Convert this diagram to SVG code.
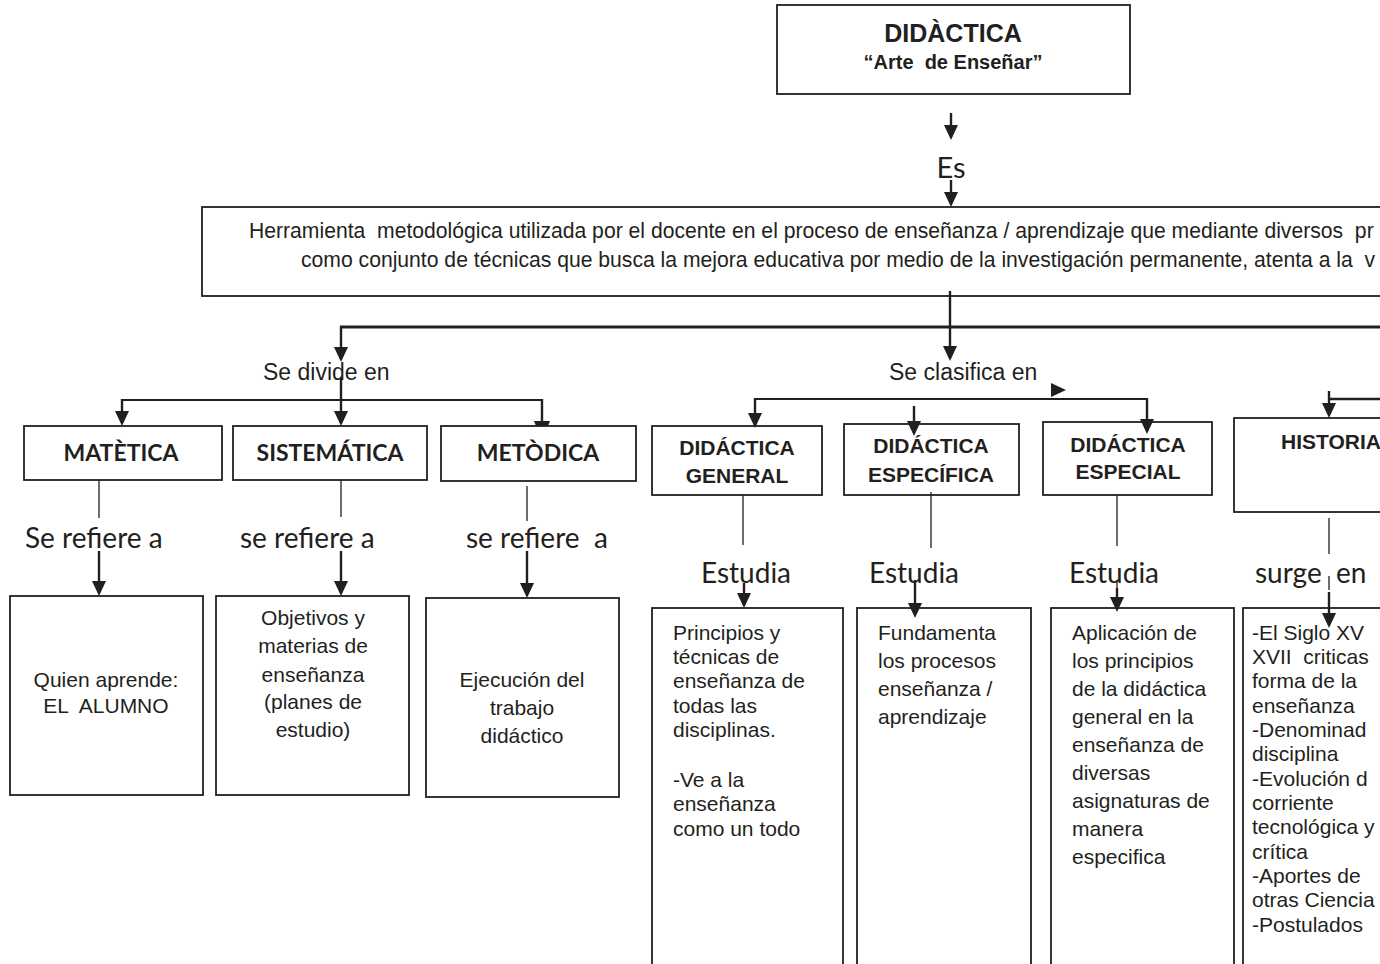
<svg xmlns="http://www.w3.org/2000/svg" width="1380" height="964" viewBox="0 0 1380 964">
<defs>
<marker id="ah" viewBox="0 0 10 10" refX="8" refY="5" markerUnits="userSpaceOnUse" markerWidth="15" markerHeight="14" orient="auto" preserveAspectRatio="none"><path d="M0,0 L10,5 L0,10 z" fill="#231f20"/></marker>
<style>
.box{fill:#fff;stroke:#231f20;stroke-width:1.8}
.t{font-family:"Liberation Sans",Arial,sans-serif;fill:#231f20}
.c{font-family:Lato,"Open Sans",sans-serif;fill:#231f20}
.b{font-weight:bold}
.mid{text-anchor:middle}
.ln{stroke:#231f20;fill:none}
.thin{stroke-width:1.3}
.arr{stroke-width:2.4;marker-end:url(#ah)}
</style>
</defs>
<rect x="0" y="0" width="1380" height="964" fill="#fff"/>

<g id="didactica">
<rect class="box" x="777" y="5" width="353" height="89"/>
<text class="t b mid" x="953" y="42" font-size="25">DIDÀCTICA</text>
<text class="t b mid" x="953" y="69" font-size="20" xml:space="preserve">“Arte  de Enseñar”</text>
</g>
<g id="lbl-es"><text class="c mid" x="951" y="178" font-size="29">Es</text></g>

<g id="definicion">
<rect class="box" x="202" y="207" width="1200" height="89"/>
<text class="t" x="249" y="238" font-size="21.15" xml:space="preserve">Herramienta  metodológica utilizada por el docente en el proceso de enseñanza / aprendizaje que mediante diversos  pr</text>
<text class="t" x="301" y="267" font-size="21.15" xml:space="preserve">como conjunto de técnicas que busca la mejora educativa por medio de la investigación permanente, atenta a la  v</text>
</g>

<g id="lbl-divide"><text class="t" x="263" y="380" font-size="23">Se divide en</text></g>
<g id="lbl-clasifica"><text class="t" x="889" y="380" font-size="23">Se clasifica en</text></g>

<g id="matetica">
<rect class="box" x="24" y="426" width="198" height="54"/>
<text class="c b mid" x="121" y="461" font-size="23">MATÈTICA</text>
</g>
<g id="sistematica">
<rect class="box" x="233" y="426" width="194" height="54"/>
<text class="c b mid" x="330" y="461" font-size="23">SISTEMÁTICA</text>
</g>
<g id="metodica">
<rect class="box" x="441" y="426" width="195" height="55"/>
<text class="c b mid" x="538" y="461" font-size="23">METÒDICA</text>
</g>

<g id="lbl-refiere1"><text class="c" x="25" y="548" font-size="28">Se refiere a</text></g>
<g id="lbl-refiere2"><text class="c" x="240" y="548" font-size="28">se refiere a</text></g>
<g id="lbl-refiere3"><text class="c" x="466" y="548" font-size="28" xml:space="preserve">se refiere  a</text></g>

<g id="alumno">
<rect class="box" x="10" y="596" width="193" height="199"/>
<text class="t mid" x="106" y="687" font-size="21">Quien aprende:</text>
<text class="t mid" x="106" y="713" font-size="21" xml:space="preserve">EL  ALUMNO</text>
</g>
<g id="objetivos">
<rect class="box" x="216" y="596" width="193" height="199"/>
<text class="t mid" x="313" y="625" font-size="21">Objetivos y</text>
<text class="t mid" x="313" y="653" font-size="21">materias de</text>
<text class="t mid" x="313" y="682" font-size="21">enseñanza</text>
<text class="t mid" x="313" y="709" font-size="21">(planes de</text>
<text class="t mid" x="313" y="737" font-size="21">estudio)</text>
</g>
<g id="ejecucion">
<rect class="box" x="426" y="598" width="193" height="199"/>
<text class="t mid" x="522" y="687" font-size="21">Ejecución del</text>
<text class="t mid" x="522" y="715" font-size="21">trabajo</text>
<text class="t mid" x="522" y="743" font-size="21">didáctico</text>
</g>

<g id="general">
<rect class="box" x="652" y="426" width="170" height="69"/>
<text class="t b mid" x="737" y="455" font-size="21">DIDÁCTICA</text>
<text class="t b mid" x="737" y="483" font-size="21">GENERAL</text>
</g>
<g id="especifica">
<rect class="box" x="844" y="424" width="175" height="71"/>
<text class="t b mid" x="931" y="453" font-size="21">DIDÁCTICA</text>
<text class="t b mid" x="931" y="482" font-size="21">ESPECÍFICA</text>
</g>
<g id="especial">
<rect class="box" x="1043" y="422" width="169" height="73"/>
<text class="t b mid" x="1128" y="452" font-size="21">DIDÁCTICA</text>
<text class="t b mid" x="1128" y="479" font-size="21">ESPECIAL</text>
</g>
<g id="historia">
<rect class="box" x="1234" y="418" width="170" height="94"/>
<text class="t b" x="1281" y="449" font-size="21">HISTORIA</text>
</g>

<g id="lbl-estudia1"><text class="c" x="701" y="583" font-size="28">Estudia</text></g>
<g id="lbl-estudia2"><text class="c" x="869" y="583" font-size="28">Estudia</text></g>
<g id="lbl-estudia3"><text class="c" x="1069" y="583" font-size="28">Estudia</text></g>
<g id="lbl-surge"><text class="c" x="1255" y="583" font-size="28" xml:space="preserve">surge  en</text></g>

<g id="principios">
<rect class="box" x="652" y="608" width="191" height="380"/>
<text class="t" x="673" y="640" font-size="21">Principios y</text>
<text class="t" x="673" y="664" font-size="21">técnicas de</text>
<text class="t" x="673" y="688" font-size="21">enseñanza de</text>
<text class="t" x="673" y="713" font-size="21">todas las</text>
<text class="t" x="673" y="737" font-size="21">disciplinas.</text>
<text class="t" x="673" y="787" font-size="21">-Ve a la</text>
<text class="t" x="673" y="811" font-size="21">enseñanza</text>
<text class="t" x="673" y="836" font-size="21">como un todo</text>
</g>
<g id="fundamenta">
<rect class="box" x="857" y="608" width="174" height="380"/>
<text class="t" x="878" y="640" font-size="21">Fundamenta</text>
<text class="t" x="878" y="668" font-size="21">los procesos</text>
<text class="t" x="878" y="696" font-size="21">enseñanza /</text>
<text class="t" x="878" y="724" font-size="21">aprendizaje</text>
</g>
<g id="aplicacion">
<rect class="box" x="1051" y="608" width="183" height="380"/>
<text class="t" x="1072" y="640" font-size="21">Aplicación de</text>
<text class="t" x="1072" y="668" font-size="21">los principios</text>
<text class="t" x="1072" y="696" font-size="21">de la didáctica</text>
<text class="t" x="1072" y="724" font-size="21">general en la</text>
<text class="t" x="1072" y="752" font-size="21">enseñanza de</text>
<text class="t" x="1072" y="780" font-size="21">diversas</text>
<text class="t" x="1072" y="808" font-size="21">asignaturas de</text>
<text class="t" x="1072" y="836" font-size="21">manera</text>
<text class="t" x="1072" y="864" font-size="21">especifica</text>
</g>
<g id="siglo">
<rect class="box" x="1243" y="608" width="170" height="380"/>
<text class="t" x="1252" y="640" font-size="21">-El Siglo XV</text>
<text class="t" x="1252" y="664" font-size="21" xml:space="preserve">XVII  criticas</text>
<text class="t" x="1252" y="688" font-size="21">forma de la</text>
<text class="t" x="1252" y="713" font-size="21">enseñanza</text>
<text class="t" x="1252" y="737" font-size="21">-Denominad</text>
<text class="t" x="1252" y="761" font-size="21">disciplina</text>
<text class="t" x="1252" y="786" font-size="21">-Evolución d</text>
<text class="t" x="1252" y="810" font-size="21">corriente</text>
<text class="t" x="1252" y="834" font-size="21">tecnológica y</text>
<text class="t" x="1252" y="859" font-size="21">crítica</text>
<text class="t" x="1252" y="883" font-size="21">-Aportes de</text>
<text class="t" x="1252" y="907" font-size="21">otras Ciencia</text>
<text class="t" x="1252" y="932" font-size="21">-Postulados</text>
</g>

<g id="connectors">
<line class="ln arr" x1="951" y1="113" x2="951" y2="137"/>
<line class="ln arr" x1="951" y1="180" x2="951" y2="204"/>
<line class="ln arr" x1="950" y1="291" x2="950" y2="358"/>
<line class="ln" stroke-width="3" x1="340" y1="327" x2="1380" y2="327"/>
<line class="ln arr" x1="341" y1="326" x2="341" y2="359"/>
<line class="ln arr" x1="341" y1="377" x2="341" y2="423"/>
<line class="ln" stroke-width="2" x1="121" y1="400" x2="543" y2="400"/>
<line class="ln arr" x1="122" y1="399" x2="122" y2="423"/>
<line class="ln" stroke-width="2.4" x1="542" y1="399" x2="542" y2="423"/>
<polygon points="534,421 550,421 548,426 536,426" fill="#231f20"/>
<line class="ln thin" x1="99" y1="480" x2="99" y2="518"/>
<line class="ln thin" x1="341" y1="480" x2="341" y2="517"/>
<line class="ln thin" x1="527" y1="486" x2="527" y2="521"/>
<line class="ln arr" x1="99" y1="551" x2="99" y2="593"/>
<line class="ln arr" x1="341" y1="551" x2="341" y2="593"/>
<line class="ln arr" x1="527" y1="551" x2="527" y2="595"/>
<polygon points="1051,383 1066,390 1051,397" fill="#231f20"/>
<line class="ln" stroke-width="2" x1="754" y1="399" x2="1148" y2="399"/>
<line class="ln arr" x1="755" y1="398" x2="755" y2="425"/>
<line class="ln arr" x1="914" y1="406" x2="914" y2="433"/>
<line class="ln arr" x1="1147" y1="398" x2="1147" y2="431"/>
<line class="ln" stroke-width="2.4" x1="1328" y1="399" x2="1380" y2="399"/>
<line class="ln arr" x1="1329" y1="391" x2="1329" y2="415"/>
<line class="ln thin" x1="743" y1="495" x2="743" y2="545"/>
<line class="ln thin" x1="931" y1="492" x2="931" y2="548"/>
<line class="ln thin" x1="1117" y1="495" x2="1117" y2="546"/>
<line class="ln thin" x1="1329" y1="518" x2="1329" y2="554"/>
<line class="ln arr" x1="744" y1="583" x2="744" y2="605"/>
<line class="ln arr" x1="915" y1="580" x2="915" y2="615"/>
<line class="ln thin" x1="1117" y1="580" x2="1117" y2="590"/>
<line class="ln arr" x1="1117" y1="588" x2="1117" y2="609"/>
<line class="ln thin" x1="1329" y1="576" x2="1329" y2="590"/>
<line class="ln arr" x1="1329" y1="592" x2="1329" y2="625"/>
</g>
</svg>
